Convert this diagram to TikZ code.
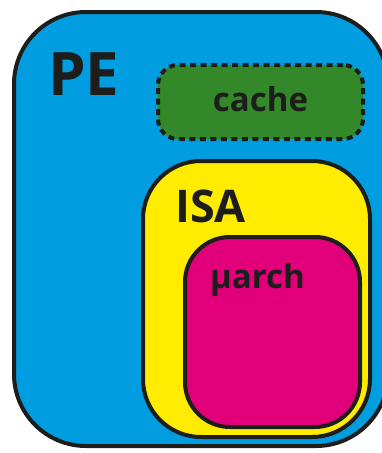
\documentclass[tikz,border=0pt]{standalone}
\usepackage{fontspec}
\setmainfont{Open Sans}
\definecolor{peblue}{RGB}{0,158,224}
\definecolor{cachegreen}{RGB}{51,136,42}
\definecolor{isayellow}{RGB}{255,236,0}
\definecolor{archpink}{RGB}{226,0,122}
\definecolor{ink}{RGB}{29,29,27}
\begin{document}
\begin{tikzpicture}[x=1pt, y=-1pt,
  box/.style={shape=rectangle, draw=ink, line width=4pt, inner sep=0pt},
  lbl/.style={anchor=base west, inner sep=0pt, text=ink, font=\bfseries}]
\useasboundingbox (0,0) rectangle (381,453);
\node[box, fill=peblue, rounded corners=72pt, minimum width=374pt, minimum height=434pt] (pe) at (201,229) {};
\node[box, fill=cachegreen, dashed, dash pattern=on 6pt off 4.5pt, rounded corners=20pt, minimum width=205pt, minimum height=74pt] (cache) at (260.5,102) {};
\node[box, fill=isayellow, rounded corners=58pt, minimum width=227pt, minimum height=276pt] (isa) at (256.5,299) {};
\node[box, fill=archpink, rounded corners=45pt, minimum width=175pt, minimum height=190pt] (arch) at (272.5,332) {};
\node[lbl, font=\bfseries\fontsize{60}{60}\selectfont] (peL) at (48,95) {PE};
\node[lbl, anchor=base, font=\bfseries\fontsize{33}{33}\selectfont] (cacheL) at (cache.center |- 0,111) {cache};
\node[lbl, font=\bfseries\fontsize{45}{45}\selectfont] (isaL) at (175,222) {ISA};
\node[lbl, font=\bfseries\fontsize{33}{33}\selectfont] (archL) at (210,288) {µarch};
\end{tikzpicture}
\end{document}
